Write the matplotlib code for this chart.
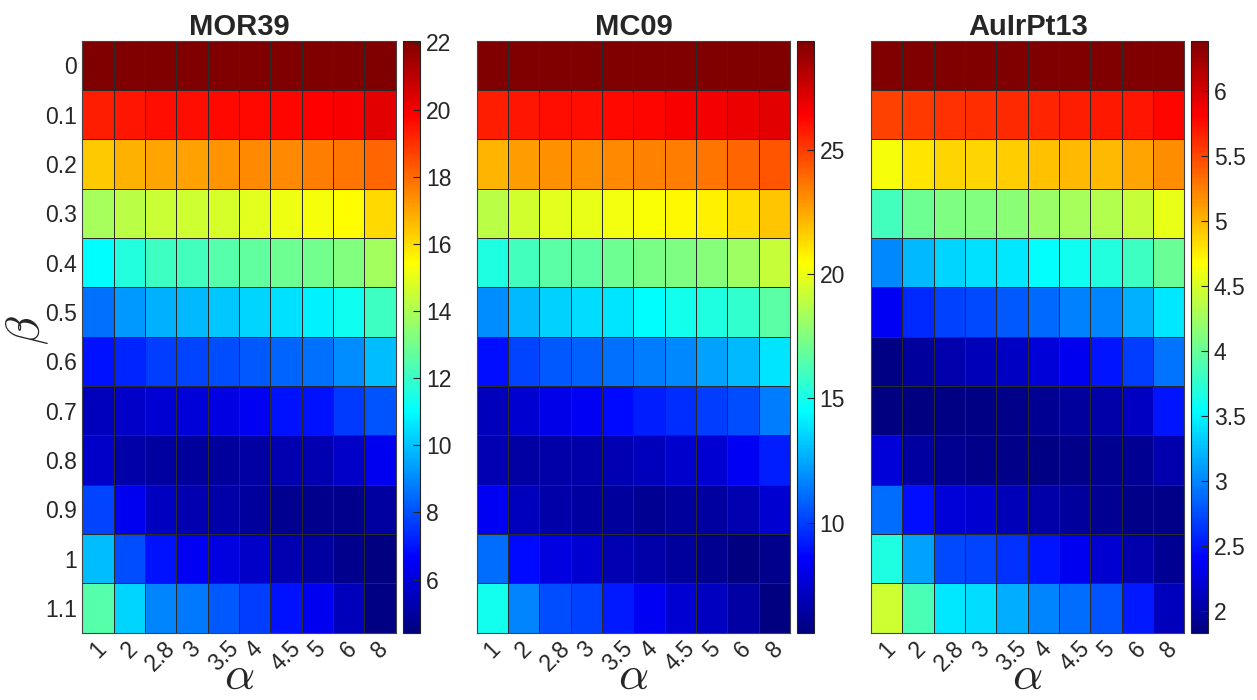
import numpy as np
import matplotlib
matplotlib.use("Agg")
import matplotlib.pyplot as plt
from matplotlib.colors import LinearSegmentedColormap

plt.rcParams['font.family'] = ['Liberation Sans', 'DejaVu Sans']
plt.rcParams['mathtext.fontset'] = 'cm'

alpha_labels = ["1", "2", "2.8", "3", "3.5", "4", "4.5", "5", "6", "8"]
beta_labels = ["0", "0.1", "0.2", "0.3", "0.4", "0.5", "0.6", "0.7", "0.8", "0.9", "1", "1.1"]
titles = ["MOR39", "MC09", "AuIrPt13"]

mor39 = [
    [22.05, 22.05, 22.05, 22.05, 22.05, 22.05, 22.05, 22.05, 22.05, 22.05],
    [19.3, 19.44, 19.58, 19.6, 19.7, 19.7, 19.75, 19.78, 19.95, 20.3],
    [16.4, 16.8, 17.0, 17.05, 17.27, 17.44, 17.5, 17.66, 17.8, 18.1],
    [13.9, 14.2, 14.5, 14.6, 14.7, 14.9, 15.1, 15.3, 15.5, 16.1],
    [11.0, 11.6, 12.08, 12.2, 12.5, 12.7, 12.9, 13.0, 13.3, 13.8],
    [8.6, 9.3, 9.7, 9.8, 10.1, 10.3, 10.5, 10.77, 11.3, 12.1],
    [6.96, 7.3, 7.7, 7.8, 8.0, 8.2, 8.4, 8.6, 9.05, 9.9],
    [5.5, 5.67, 5.9, 5.97, 6.2, 6.45, 6.9, 6.96, 7.6, 8.1],
    [5.67, 5.16, 4.98, 4.95, 4.95, 5.07, 5.25, 5.3, 5.67, 6.36],
    [7.8, 6.36, 5.58, 5.3, 5.16, 4.95, 4.72, 4.63, 4.63, 4.98],
    [9.9, 8.0, 6.96, 6.45, 6.1, 5.67, 5.25, 4.98, 4.63, 4.42],
    [12.5, 10.3, 8.9, 8.7, 8.2, 7.7, 6.96, 6.36, 5.5, 4.54],
]

mc09 = [
    [29.38, 29.38, 29.38, 29.38, 29.38, 29.38, 29.38, 29.38, 29.38, 29.38],
    [25.7, 25.9, 26.1, 26.1, 26.2, 26.3, 26.5, 26.65, 26.8, 27.0],
    [22.2, 22.7, 23.0, 23.05, 23.2, 23.4, 23.5, 23.7, 24.0, 24.4],
    [18.8, 19.4, 19.75, 19.9, 20.1, 20.35, 20.6, 20.8, 21.2, 21.8],
    [15.2, 16.0, 16.6, 16.7, 17.07, 17.3, 17.4, 17.65, 18.2, 19.1],
    [11.9, 12.9, 13.4, 13.7, 13.9, 14.5, 14.9, 15.2, 15.7, 16.6],
    [8.9, 10.2, 10.65, 10.8, 11.25, 11.5, 11.8, 12.3, 12.9, 13.9],
    [7.03, 7.5, 8.0, 8.3, 8.8, 9.27, 9.6, 9.96, 10.4, 11.5],
    [6.8, 6.45, 6.57, 6.6, 6.8, 7.03, 7.4, 7.6, 8.3, 9.27],
    [8.3, 7.03, 6.57, 6.35, 6.3, 6.06, 6.3, 6.35, 6.7, 7.5],
    [11.1, 8.8, 7.84, 7.5, 6.8, 6.57, 6.3, 5.98, 5.6, 5.86],
    [14.9, 11.7, 10.4, 10.1, 9.15, 8.3, 7.6, 7.15, 6.45, 5.58],
]

auirpt13 = [
    [6.39, 6.39, 6.39, 6.39, 6.39, 6.39, 6.39, 6.39, 6.39, 6.39],
    [5.53, 5.57, 5.6, 5.62, 5.64, 5.65, 5.68, 5.7, 5.73, 5.8],
    [4.63, 4.79, 4.86, 4.87, 4.9, 4.95, 4.99, 5.0, 5.08, 5.19],
    [3.83, 4.03, 4.1, 4.12, 4.16, 4.23, 4.28, 4.34, 4.43, 4.59],
    [3.02, 3.23, 3.36, 3.4, 3.45, 3.54, 3.61, 3.7, 3.81, 4.01],
    [2.35, 2.58, 2.69, 2.73, 2.8, 2.87, 2.98, 3.0, 3.2, 3.45],
    [1.86, 1.97, 2.04, 2.08, 2.15, 2.23, 2.33, 2.49, 2.67, 2.92],
    [1.84, 1.83, 1.85, 1.86, 1.88, 1.93, 1.97, 2.02, 2.15, 2.49],
    [2.23, 1.98, 1.91, 1.88, 1.88, 1.86, 1.88, 1.91, 1.93, 2.04],
    [2.89, 2.47, 2.23, 2.19, 2.08, 2.02, 1.97, 1.93, 1.88, 1.88],
    [3.68, 3.12, 2.73, 2.71, 2.63, 2.49, 2.33, 2.19, 2.04, 1.93],
    [4.46, 3.87, 3.45, 3.38, 3.17, 3.0, 2.89, 2.78, 2.51, 2.11],
]

cbar_ticks = [
    [6, 8, 10, 12, 14, 16, 18, 20, 22],
    [10, 15, 20, 25],
    [2, 2.5, 3, 3.5, 4, 4.5, 5, 5.5, 6],
]
cbar_ticklabels = [
    ["6", "8", "10", "12", "14", "16", "18", "20", "22"],
    ["10", "15", "20", "25"],
    ["2", "2.5", "3", "3.5", "4", "4.5", "5", "5.5", "6"],
]

datasets = [mor39, mc09, auirpt13]

# MATLAB-style jet
matlab_jet = LinearSegmentedColormap.from_list(
    'matlab_jet',
    [(0.0, (0, 0, 0.5)), (0.125, (0, 0, 1)), (0.375, (0, 1, 1)),
     (0.625, (1, 1, 0)), (0.875, (1, 0, 0)), (1.0, (0.5, 0, 0))], N=256)

W, H = 1257, 700
fig = plt.figure(figsize=(W / 100, H / 100), dpi=100)

txt = '#262626'
ax_lefts = [82.3, 476.7, 871.0]
cb_lefts = [403.0, 796.7, 1191.0]
ax_w = 313.4
cb_w = 17.3
top_px, bot_px = 40.7, 632.7
bottom = 1 - bot_px / H
height = (bot_px - top_px) / H
fs = 16.5

for i in range(3):
    data = np.array(datasets[i])
    ax = fig.add_axes([ax_lefts[i] / W, bottom, ax_w / W, height])
    cax = fig.add_axes([cb_lefts[i] / W, bottom, cb_w / W, height])
    vmin, vmax = data.min(), data.max()
    mesh = ax.pcolormesh(np.arange(data.shape[1] + 1), np.arange(data.shape[0] + 1), data,
                         cmap=matlab_jet, vmin=vmin, vmax=vmax,
                         edgecolors='#2a2a2a', linewidth=0.7)
    ax.set_xlim(0, data.shape[1])
    ax.set_ylim(data.shape[0], 0)
    ax.set_xticks(np.arange(data.shape[1]) + 0.5)
    ax.set_xticklabels(alpha_labels, rotation=45, ha='center', va='top',
                       fontsize=fs, color=txt)
    ax.tick_params(axis='x', length=0, pad=3)
    ax.tick_params(axis='y', length=0, pad=4)
    if i == 0:
        ax.set_yticks(np.arange(data.shape[0]) + 0.5)
        ax.set_yticklabels(beta_labels, fontsize=fs, color=txt)
        fig.text(27 / W, 1 - 330 / H, r'$\beta$', fontsize=34, color=txt,
                 rotation=90, ha='center', va='center')
    else:
        ax.set_yticks([])
    fig.text((ax_lefts[i] + ax_w / 2) / W, 1 - 677 / H, r'$\alpha$', fontsize=34,
             color=txt, ha='center', va='center')
    ax.set_title(titles[i], fontsize=21, fontweight='bold', color=txt, pad=4)
    for s in ax.spines.values():
        s.set_color('#444444')
        s.set_linewidth(0.8)

    cb = fig.colorbar(mesh, cax=cax)
    cb.set_ticks(cbar_ticks[i])
    cb.set_ticklabels(cbar_ticklabels[i])
    cb.ax.tick_params(labelsize=fs, direction='in', length=5, width=0.8,
                      colors=txt, pad=4)
    cb.outline.set_edgecolor('#222222')
    cb.outline.set_linewidth(0.8)

fig.savefig('out.png', dpi=100, facecolor='white')
